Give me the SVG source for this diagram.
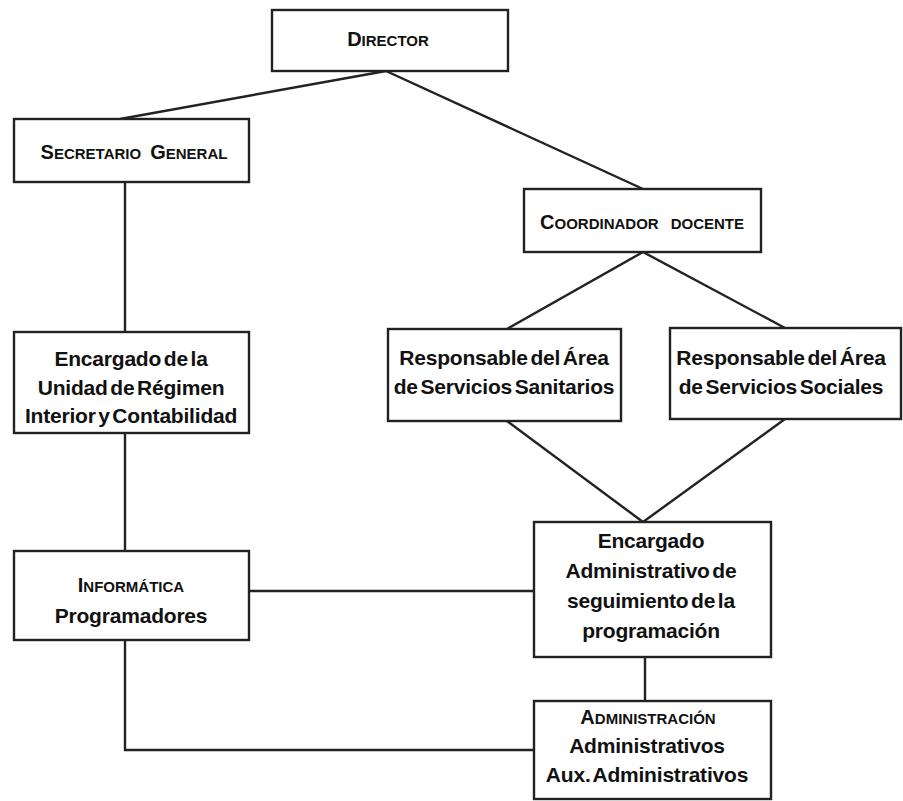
<svg xmlns="http://www.w3.org/2000/svg" width="903" height="801" viewBox="0 0 903 801">
<style>
.box{fill:#fff;stroke:#222;stroke-width:2.4}
.ln{fill:none;stroke:#222;stroke-width:2.4}
text{font-family:"Liberation Sans",Arial,sans-serif;font-weight:bold;fill:#111;text-anchor:middle;font-size:21px;letter-spacing:-0.2px;word-spacing:-3px}
.h{font-size:20px;letter-spacing:0;word-spacing:0}
.sc{font-size:15px}
</style>
<rect width="903" height="801" fill="#fff"/>
<g id="connectors">
<path class="ln" d="M386,71 L120,119"/>
<path class="ln" d="M386,71 L643,189"/>
<path class="ln" d="M125,182 L125,332"/>
<path class="ln" d="M125,433 L125,551"/>
<path class="ln" d="M643,252 L507,329"/>
<path class="ln" d="M643,252 L785,328"/>
<path class="ln" d="M507,421 L643,522"/>
<path class="ln" d="M785,419 L643,522"/>
<path class="ln" d="M249,591 L534,591"/>
<path class="ln" d="M645,657 L645,701"/>
<path class="ln" d="M125,640 L125,750 L534,750"/>
</g>
<g id="director">
<rect class="box" x="272" y="10" width="236" height="61"/>
<text class="h" x="388" y="46">D<tspan class="sc">IRECTOR</tspan></text>
</g>
<g id="secretario">
<rect class="box" x="14" y="119" width="235" height="63"/>
<text class="h" x="134" y="159">S<tspan class="sc">ECRETARIO</tspan><tspan dx="9">G</tspan><tspan class="sc">ENERAL</tspan></text>
</g>
<g id="coordinador">
<rect class="box" x="524" y="189" width="237" height="63"/>
<text class="h" x="642" y="229">C<tspan class="sc">OORDINADOR</tspan><tspan class="sc" dx="12">DOCENTE</tspan></text>
</g>
<g id="encargado-unidad">
<rect class="box" x="14" y="332" width="235" height="101"/>
<text x="131" y="366">Encargado de la</text>
<text x="131" y="395">Unidad de Régimen</text>
<text x="131" y="423">Interior y Contabilidad</text>
</g>
<g id="resp-sanitarios">
<rect class="box" x="388" y="329" width="233" height="92"/>
<text x="504" y="365">Responsable del Área</text>
<text x="504" y="394">de Servicios Sanitarios</text>
</g>
<g id="resp-sociales">
<rect class="box" x="670" y="328" width="231" height="91"/>
<text x="781" y="365">Responsable del Área</text>
<text x="781" y="394">de Servicios Sociales</text>
</g>
<g id="informatica">
<rect class="box" x="14" y="551" width="235" height="89"/>
<text class="h" x="131" y="592">I<tspan class="sc">NFORMÁTICA</tspan></text>
<text x="131" y="623">Programadores</text>
</g>
<g id="encargado-admin">
<rect class="box" x="534" y="522" width="237" height="135"/>
<text x="651" y="548">Encargado</text>
<text x="651" y="578">Administrativo de</text>
<text x="651" y="608">seguimiento de la</text>
<text x="651" y="638">programación</text>
</g>
<g id="administracion">
<rect class="box" x="534" y="701" width="237" height="98"/>
<text class="h" x="648" y="724">A<tspan class="sc">DMINISTRACIÓN</tspan></text>
<text x="647" y="753">Administrativos</text>
<text x="647" y="782">Aux. Administrativos</text>
</g>
</svg>
